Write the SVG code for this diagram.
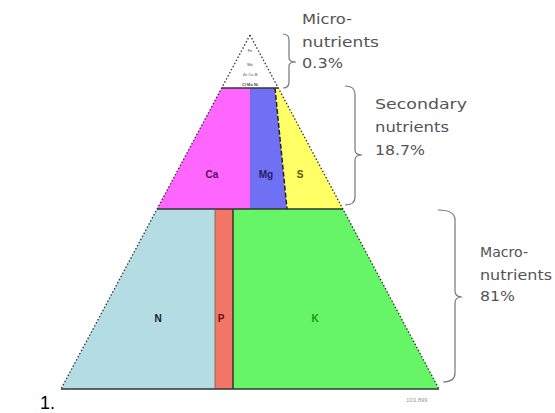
<svg xmlns="http://www.w3.org/2000/svg" width="555" height="413" viewBox="0 0 555 413">
<style>
.edge{fill:none;stroke:#333;stroke-width:1.3;stroke-dasharray:1.5 2}
.solid{stroke:#333;stroke-width:1.5}
.brace{fill:none;stroke:#777;stroke-width:1.2}
.lbl{font-family:"Liberation Sans",Arial,sans-serif;font-size:10px;font-weight:bold;text-anchor:middle}
.side{font-family:"DejaVu Sans",Verdana,sans-serif;font-size:14px;fill:#555}
.tiny{font-family:"Liberation Sans",Arial,sans-serif;font-size:4px;fill:#444;text-anchor:middle}
</style>
<rect width="555" height="413" fill="#fff"/>
<g id="micro">
<polygon points="250,35 278.4,88 221.6,88" fill="#fff"/>
<text class="tiny" x="250" y="52">Fe</text>
<text class="tiny" x="250" y="66">Mn</text>
<text class="tiny" x="250" y="76">Zn Cu B</text>
<text class="tiny" x="250" y="86" font-weight="bold">Cl Mo Ni</text>
</g>
<g id="ca">
<polygon points="221.6,88 250,88 250,209 157,209" fill="#ff66ff"/>
<text class="lbl" x="212" y="178" fill="#551155">Ca</text>
</g>
<g id="mg">
<polygon points="250,88 275,88 287,209 250,209" fill="#7070f5"/>
<text class="lbl" x="266" y="178" fill="#222266">Mg</text>
</g>
<g id="s">
<polygon points="275,88 278.4,88 343,209 287,209" fill="#ffff66"/>
<text class="lbl" x="300" y="178" fill="#555500">S</text>
</g>
<g id="n">
<polygon points="157,209 215,209 215,389 61,389" fill="#b3dde2"/>
<text class="lbl" x="158" y="322" fill="#112233" font-size="13">N</text>
</g>
<g id="p">
<polygon points="215,209 233,209 233,389 215,389" fill="#f27566"/>
<text class="lbl" x="221" y="322" fill="#661111" font-size="13">P</text>
</g>
<g id="k">
<polygon points="233,209 343,209 439,389 233,389" fill="#66f566"/>
<text class="lbl" x="315" y="322" fill="#119911" font-size="13">K</text>
</g>
<g id="connectors">
<line class="solid" x1="221.6" y1="88" x2="278.4" y2="88"/>
<line class="solid" x1="157" y1="209" x2="343" y2="209"/>
<line class="solid" x1="61" y1="389" x2="439" y2="389"/>
<line x1="275" y1="88" x2="287" y2="209" stroke="#222" stroke-width="1.5" stroke-dasharray="5 2"/>
<line x1="215" y1="209" x2="215" y2="389" stroke="#664" stroke-width="0.8"/>
<line x1="233" y1="209" x2="233" y2="389" stroke="#333" stroke-width="1.5"/>
<path class="edge" d="M250,35 L61,389"/>
<path class="edge" d="M250,35 L439,389"/>
<path class="brace" d="M283,34 Q289,34 289,40 L289,58 Q289,62 296,62 Q289,62 289,66 L289,82 Q289,88 283,88"/>
<path class="brace" d="M345,86 Q355,86 355,94 L355,150 Q355,155 362,155 Q355,155 355,160 L355,197 Q355,205 345,205"/>
<path class="brace" d="M438,210 Q455,210 455,220 L455,291 Q455,297 462,297 Q455,297 455,303 L455,373 Q455,382 443,382"/>
</g>
<g id="labels">
<text class="side" x="302" y="24" textLength="50" lengthAdjust="spacingAndGlyphs">Micro-</text>
<text class="side" x="302" y="47" textLength="77" lengthAdjust="spacingAndGlyphs">nutrients</text>
<text class="side" x="302" y="68" textLength="41" lengthAdjust="spacingAndGlyphs">0.3%</text>
<text class="side" x="375" y="109" textLength="92" lengthAdjust="spacingAndGlyphs">Secondary</text>
<text class="side" x="375" y="132" textLength="74" lengthAdjust="spacingAndGlyphs">nutrients</text>
<text class="side" x="375" y="155" textLength="50" lengthAdjust="spacingAndGlyphs">18.7%</text>
<text class="side" x="480" y="257" textLength="48" lengthAdjust="spacingAndGlyphs">Macro-</text>
<text class="side" x="480" y="280" textLength="72" lengthAdjust="spacingAndGlyphs">nutrients</text>
<text class="side" x="480" y="301" textLength="35" lengthAdjust="spacingAndGlyphs">81%</text>
<text x="406" y="402" font-family="Liberation Sans,Arial,sans-serif" font-size="6" fill="#999">103,899</text>
<text x="40" y="409" font-family="Liberation Sans,Arial,sans-serif" font-size="18" fill="#000">1.</text>
</g>
</svg>
